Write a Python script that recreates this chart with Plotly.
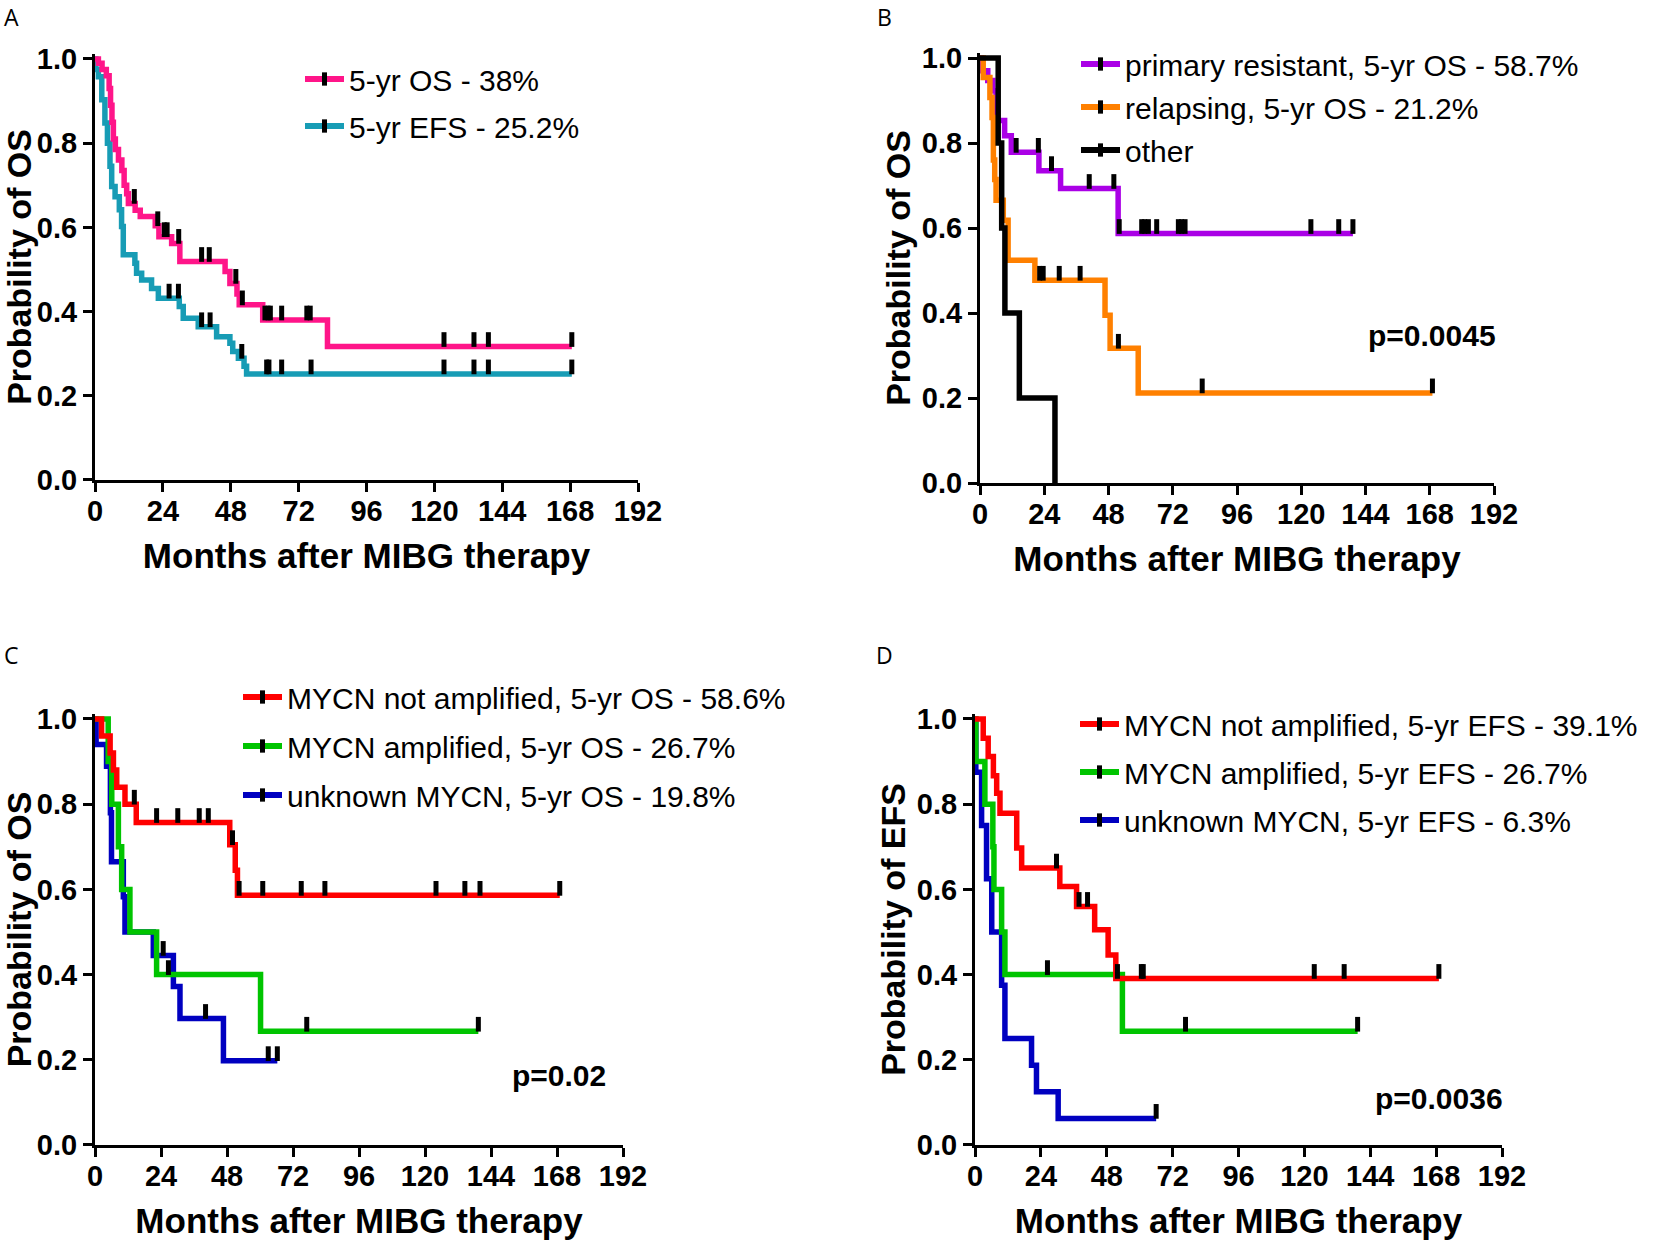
import plotly.graph_objects as go

W, H = 1654, 1243

# ---------------- DATA ----------------
# Panel A
A_OS_t = [0, 1.2, 2.5, 4.0, 5.0, 5.5, 6.0, 6.5, 7.2, 8.3, 9.5, 10.3, 11.2, 11.8, 14.2, 16.0, 21.3, 22.6, 27.1, 30.0, 46.0, 47.7, 50.2, 51.0, 59.3, 82.2]
A_OS_s = [1.0, 0.99, 0.975, 0.96, 0.93, 0.89, 0.85, 0.81, 0.785, 0.76, 0.735, 0.70, 0.68, 0.657, 0.641, 0.626, 0.604, 0.578, 0.562, 0.519, 0.495, 0.467, 0.442, 0.416, 0.38, 0.317]
A_OS_c = [13.9, 22.2, 24.5, 25.5, 29.6, 37.7, 40.4, 49.8, 52.1, 60.1, 61.2, 62.0, 66.0, 74.9, 76.1, 123.4, 134.0, 139.1, 168.6]
A_OS_end = 168.6

A_EFS_t = [0, 0.3, 1.2, 2.4, 3.5, 4.4, 5.3, 5.9, 7.1, 8.6, 9.4, 10.0, 14.1, 14.7, 16.5, 20.0, 22.4, 29.8, 31.2, 36.5, 43.0, 47.7, 48.7, 50.7, 52.7, 53.6]
A_EFS_s = [1.0, 0.975, 0.958, 0.903, 0.848, 0.80, 0.745, 0.697, 0.673, 0.642, 0.602, 0.535, 0.515, 0.491, 0.475, 0.455, 0.432, 0.412, 0.384, 0.364, 0.34, 0.325, 0.305, 0.289, 0.27, 0.252]
A_EFS_c = [26.2, 29.5, 37.7, 40.7, 51.9, 60.7, 61.5, 66.0, 76.4, 123.4, 134.0, 139.1, 168.6]
A_EFS_end = 168.6

# Panel B
B_PR_t = [0, 0.5, 2.9, 4.8, 6.0, 9.2, 11.7, 22.0, 30.1, 51.6]
B_PR_s = [1.0, 0.97, 0.947, 0.923, 0.853, 0.817, 0.778, 0.735, 0.693, 0.587]
B_PR_c = [13.5, 21.8, 26.7, 40.8, 50.0, 52.0, 60.4, 61.5, 62.9, 66.0, 74.1, 75.3, 76.6, 123.6, 134.0, 139.3]
B_PR_end = 139.3

B_REL_t = [0, 1.2, 3.7, 4.5, 5.0, 5.5, 6.0, 8.7, 10.5, 20.5, 46.7, 48.6, 59.1]
B_REL_s = [1.0, 0.954, 0.907, 0.86, 0.76, 0.714, 0.665, 0.618, 0.524, 0.477, 0.395, 0.317, 0.212]
B_REL_c = [22.3, 23.6, 29.6, 37.4, 51.7, 83.0, 169.0]
B_REL_end = 169.0

B_OTH_t = [0, 6.8, 8.1, 9.3, 14.7, 28.0]
B_OTH_s = [1.0, 0.8, 0.6, 0.4, 0.2, 0.0]
B_OTH_c = []
B_OTH_end = 28.0

# Panel C
C_NA_t = [0, 2.4, 5.5, 6.7, 7.9, 10.9, 15.0, 49.0, 51.0, 51.8]
C_NA_s = [1.0, 0.96, 0.92, 0.88, 0.84, 0.80, 0.757, 0.705, 0.645, 0.586]
C_NA_c = [14.3, 22.4, 30.1, 37.9, 41.2, 50.0, 52.4, 61.0, 75.0, 83.6, 124.0, 134.5, 140.0, 169.0]
C_NA_end = 169.0

C_AMP_t = [0, 4.8, 6.1, 8.5, 9.7, 12.7, 22.4, 60.2]
C_AMP_s = [1.0, 0.9, 0.8, 0.7, 0.6, 0.5, 0.4, 0.267]
C_AMP_c = [26.7, 77.0, 139.4]
C_AMP_end = 139.4

C_UNK_t = [0, 0.4, 4.2, 5.6, 6.0, 10.3, 10.9, 21.2, 28.5, 30.9, 46.7]
C_UNK_s = [1.0, 0.94, 0.889, 0.78, 0.665, 0.583, 0.5, 0.445, 0.372, 0.297, 0.198]
C_UNK_c = [24.8, 40.2, 63.0, 66.3]
C_UNK_end = 66.3

# Panel D
D_NA_t = [0, 3.0, 4.8, 6.7, 7.9, 9.1, 15.2, 17.0, 30.9, 37.0, 43.6, 48.5, 51.3]
D_NA_s = [1.0, 0.955, 0.912, 0.867, 0.826, 0.779, 0.697, 0.65, 0.607, 0.56, 0.505, 0.446, 0.391]
D_NA_c = [29.7, 37.9, 41.0, 51.9, 60.6, 61.3, 123.6, 134.5, 169.0]
D_NA_end = 169.0

D_AMP_t = [0, 0.3, 3.6, 6.5, 6.9, 9.7, 10.9, 53.7]
D_AMP_s = [1.0, 0.9, 0.8, 0.7, 0.6, 0.5, 0.4, 0.267]
D_AMP_c = [26.4, 76.7, 139.4]
D_AMP_end = 139.4

D_UNK_t = [0, 0.3, 2.4, 4.2, 6.1, 9.7, 10.9, 20.6, 22.4, 30.3]
D_UNK_s = [1.0, 0.875, 0.75, 0.625, 0.5, 0.375, 0.25, 0.1875, 0.125, 0.0625]
D_UNK_c = [66.0]
D_UNK_end = 66.0

x_ticks = [0, 24, 48, 72, 96, 120, 144, 168, 192]
y_ticks = [0.0, 0.2, 0.4, 0.6, 0.8, 1.0]

labels_A = ["5-yr OS - 38%", "5-yr EFS - 25.2%"]
labels_B = ["primary resistant, 5-yr OS - 58.7%", "relapsing, 5-yr OS - 21.2%", "other"]
labels_C = ["MYCN not amplified, 5-yr OS - 58.6%", "MYCN amplified, 5-yr OS - 26.7%", "unknown MYCN, 5-yr OS - 19.8%"]
labels_D = ["MYCN not amplified, 5-yr EFS - 39.1%", "MYCN amplified, 5-yr EFS - 26.7%", "unknown MYCN, 5-yr EFS - 6.3%"]
p_values = {"B": "p=0.0045", "C": "p=0.02", "D": "p=0.0036"}
p_pos = {"B": (169, 0.348), "C": (168.7, 0.162), "D": (169, 0.11)}

# ---------------- STYLE ----------------
PINK, TEAL = "#FF1589", "#179CB5"
PURPLE, ORANGE, BLACK = "#AA00E6", "#FF8000", "#000000"
RED, GREEN, BLUE = "#FF0000", "#00C400", "#0000C0"
FONT = "Liberation Sans, Arial, sans-serif"
LW = 5.5

# page-pixel geometry of each panel: x of 0 months, x of 192 months, y of 1.0, y of 0.0
geom = {
    1: dict(x0=95, x1=638, yt=59, yb=480),
    2: dict(x0=980, x1=1494, yt=58, yb=483),
    3: dict(x0=95, x1=623, yt=719, yb=1145),
    4: dict(x0=975, x1=1502, yt=719, yb=1145),
}
YMAX = 1.012


def fx(px):
    return px / W


def fy(py):
    return 1 - py / H


fig = go.Figure()


def step_xy(t, s, end):
    return list(t) + [end], list(s) + [s[-1]]


def at(t, s, c):
    v = s[0]
    for ti, si in zip(t, s):
        if ti <= c:
            v = si
    return v


def add_curve(i, t, s, end, color):
    xs, ys = step_xy(t, s, end)
    fig.add_trace(go.Scatter(x=xs, y=ys, mode="lines", line=dict(color=color, width=LW, shape="hv"),
                             showlegend=False, xaxis=f"x{i}", yaxis=f"y{i}", hoverinfo="skip"))


def add_censor(i, t, s, c):
    if not c:
        return
    g = geom[i]
    off = 7.0 / (g["yb"] - g["yt"])
    fig.add_trace(go.Scatter(x=c, y=[at(t, s, ci) + off for ci in c], mode="markers",
                             marker=dict(symbol="line-ns", size=10.5, color="black",
                                         line=dict(color="black", width=5)),
                             showlegend=False, xaxis=f"x{i}", yaxis=f"y{i}", cliponaxis=False,
                             hoverinfo="skip"))


def add_legend_item(i, name, color, legend, group):
    fig.add_trace(go.Scatter(x=[None], y=[None], mode="lines+markers", name=name,
                             line=dict(color=color, width=6),
                             marker=dict(symbol="line-ns", size=9.5, color="black",
                                         line=dict(color="black", width=5)),
                             legend=legend, legendgroup=group, showlegend=True,
                             xaxis=f"x{i}", yaxis=f"y{i}"))


panels = {
    1: [(A_EFS_t, A_EFS_s, A_EFS_c, A_EFS_end, TEAL), (A_OS_t, A_OS_s, A_OS_c, A_OS_end, PINK)],
    2: [(B_PR_t, B_PR_s, B_PR_c, B_PR_end, PURPLE), (B_REL_t, B_REL_s, B_REL_c, B_REL_end, ORANGE),
        (B_OTH_t, B_OTH_s, B_OTH_c, B_OTH_end, BLACK)],
    3: [(C_UNK_t, C_UNK_s, C_UNK_c, C_UNK_end, BLUE), (C_AMP_t, C_AMP_s, C_AMP_c, C_AMP_end, GREEN),
        (C_NA_t, C_NA_s, C_NA_c, C_NA_end, RED)],
    4: [(D_UNK_t, D_UNK_s, D_UNK_c, D_UNK_end, BLUE), (D_AMP_t, D_AMP_s, D_AMP_c, D_AMP_end, GREEN),
        (D_NA_t, D_NA_s, D_NA_c, D_NA_end, RED)],
}
for i, curves in panels.items():
    for t, s, c, end, col in curves:
        add_curve(i, t, s, end, col)
    for t, s, c, end, col in curves:
        add_censor(i, t, s, c)

legend_items = {
    1: ("legend", list(zip(labels_A, [PINK, TEAL]))),
    2: ("legend2", list(zip(labels_B, [PURPLE, ORANGE, BLACK]))),
    3: ("legend3", list(zip(labels_C, [RED, GREEN, BLUE]))),
    4: ("legend4", list(zip(labels_D, [RED, GREEN, BLUE]))),
}
for i, (lg, items) in legend_items.items():
    for k, (name, col) in enumerate(items):
        add_legend_item(i, name, col, lg, f"g{i}_{k}")

layout = dict(width=W, height=H, margin=dict(l=0, r=0, t=0, b=0), autosize=False,
              plot_bgcolor="white", paper_bgcolor="white", font=dict(family=FONT, color="black"))

ytitles = {1: "Probability of OS", 2: "Probability of OS", 3: "Probability of OS", 4: "Probability of EFS"}
for i, g in geom.items():
    ph = g["yb"] - g["yt"]
    ytop = g["yt"] - (YMAX - 1) * ph
    xk = "xaxis" if i == 1 else f"xaxis{i}"
    yk = "yaxis" if i == 1 else f"yaxis{i}"
    layout[xk] = dict(domain=[fx(g["x0"]), fx(g["x1"])], range=[0, 192], anchor=f"y{i}",
                      tickvals=x_ticks, ticktext=[str(v) for v in x_ticks],
                      showline=True, linewidth=3, linecolor="black", ticks="outside", ticklen=9,
                      tickwidth=3, tickcolor="black", showgrid=False, zeroline=False, tickangle=0,
                      ticklabelstandoff=-6,
                      tickfont=dict(family=FONT, size=29, color="black", weight="bold"),
                      title=dict(text="Months after MIBG therapy", standoff=18,
                                 font=dict(family=FONT, size=35, color="black", weight="bold")),
                      automargin=False, fixedrange=True)
    layout[yk] = dict(domain=[fy(g["yb"]), fy(ytop)], range=[0, YMAX], anchor=f"x{i}",
                      tickvals=y_ticks, ticktext=[f"{v:.1f}" for v in y_ticks],
                      showline=True, linewidth=3, linecolor="black", ticks="outside", ticklen=9,
                      tickwidth=3, tickcolor="black", showgrid=False, zeroline=False,
                      tickfont=dict(family=FONT, size=29, color="black", weight="bold"),
                      title=dict(text=ytitles[i], standoff=1,
                                 font=dict(family=FONT, size=34, color="black", weight="bold")),
                      automargin=False, fixedrange=True)

# legend top-left in page pixels, and the gap between rows
leg_pos = {"legend": (300, 53, 5), "legend2": (1076, 38, 1), "legend3": (238, 671, 7), "legend4": (1075, 698, 6)}
for lg, (px, py, gap) in leg_pos.items():
    layout[lg] = dict(x=fx(px), y=fy(py), xanchor="left", yanchor="top", bgcolor="rgba(0,0,0,0)",
                      font=dict(family=FONT, size=30, color="black"), tracegroupgap=gap, itemwidth=39,
                      borderwidth=0)

annotations = []
for letter, (px, py) in {"A": (11, 17), "B": (885, 17), "C": (11, 655), "D": (885, 655)}.items():
    annotations.append(dict(text=letter, x=fx(px), y=fy(py), xref="paper", yref="paper",
                            showarrow=False, xanchor="center", yanchor="middle",
                            font=dict(family="Open Sans, sans-serif", size=23, color="black")))
for (k, txt), i in zip(p_values.items(), [2, 3, 4]):
    px, py = p_pos[k]
    annotations.append(dict(text=txt, x=px, y=py, xref=f"x{i}", yref=f"y{i}", showarrow=False,
                            xanchor="center", yanchor="middle",
                            font=dict(family=FONT, size=30, color="black", weight="bold")))
layout["annotations"] = annotations

fig.update_layout(**layout)
# remove the browser's default 8px body margin so the figure sits at the page origin
fig.write_html("out.html", config={"displayModeBar": False},
               post_script="document.body.style.margin='0';")
